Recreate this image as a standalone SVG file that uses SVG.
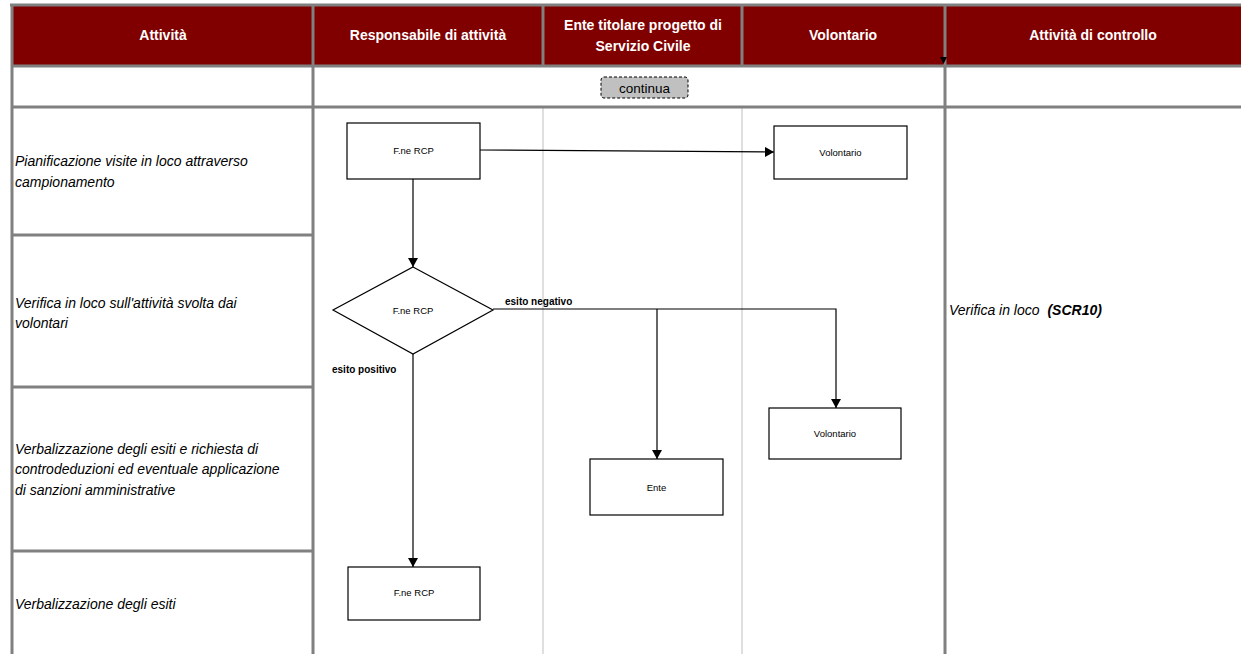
<svg xmlns="http://www.w3.org/2000/svg" width="1241" height="654" viewBox="0 0 1241 654">
<style>
.hdr{fill:#800000}
.grid{stroke:#808080;stroke-width:3;fill:none}
.lane{stroke:#bfbfbf;stroke-width:1;fill:none}
.htxt{font-family:"Liberation Sans",Arial,sans-serif;font-size:14px;font-weight:bold;fill:#fff;text-anchor:middle}
.act{font-family:"Liberation Sans",Arial,sans-serif;font-size:14px;font-style:italic;fill:#000}
.box{fill:#fff;stroke:#000;stroke-width:1.2}
.ntxt{font-family:"Liberation Sans",Arial,sans-serif;font-size:9.5px;fill:#000;text-anchor:middle}
.lbl{font-family:"Liberation Sans",Arial,sans-serif;font-size:10px;font-weight:bold;fill:#000}
.conn{stroke:#000;stroke-width:1.2;fill:none}
</style>
<defs>
<marker id="arr" markerWidth="10" markerHeight="10" refX="9" refY="5" orient="auto" markerUnits="userSpaceOnUse">
<path d="M0,0 L9,5 L0,10 Z" fill="#000"/>
</marker>
</defs>
<rect x="0" y="0" width="1241" height="654" fill="#fff"/>
<g id="grid">
<rect class="hdr" x="12" y="5" width="1229" height="61"/>
<line class="lane" x1="543" y1="106" x2="543" y2="654"/>
<line class="lane" x1="742" y1="106" x2="742" y2="654"/>
<line class="grid" x1="10" y1="5" x2="1241" y2="5"/>
<line class="grid" x1="12" y1="66" x2="1241" y2="66"/>
<line class="grid" x1="12" y1="107" x2="1241" y2="107"/>
<line class="grid" x1="12" y1="235" x2="313" y2="235"/>
<line class="grid" x1="12" y1="387" x2="313" y2="387"/>
<line class="grid" x1="12" y1="551" x2="313" y2="551"/>
<line class="grid" x1="12" y1="4" x2="12" y2="654"/>
<line class="grid" x1="313" y1="4" x2="313" y2="654"/>
<line class="grid" x1="543" y1="4" x2="543" y2="66"/>
<line class="grid" x1="742" y1="4" x2="742" y2="66"/>
<line class="grid" x1="945" y1="4" x2="945" y2="654"/>
<path d="M940,57 L947,57 L943.5,64 Z" fill="#000"/>
</g>
<g id="headers">
<text class="htxt" x="163" y="40">Attività</text>
<text class="htxt" x="428" y="40">Responsabile di attività</text>
<text class="htxt" x="643" y="30">Ente titolare progetto di</text>
<text class="htxt" x="643" y="51">Servizio Civile</text>
<text class="htxt" x="843" y="40">Volontario</text>
<text class="htxt" x="1093" y="40">Attività di controllo</text>
</g>
<g id="activities">
<text class="act" x="15" y="166">Pianificazione visite in loco attraverso</text>
<text class="act" x="15" y="187">campionamento</text>
<text class="act" x="15" y="308">Verifica in loco sull'attività svolta dai</text>
<text class="act" x="15" y="328">volontari</text>
<text class="act" x="15" y="454">Verbalizzazione degli esiti e richiesta di</text>
<text class="act" x="15" y="474">controdeduzioni ed eventuale applicazione</text>
<text class="act" x="15" y="495">di sanzioni amministrative</text>
<text class="act" x="15" y="609">Verbalizzazione degli esiti</text>
<text class="act" x="949" y="315">Verifica in loco <tspan dx="4" font-weight="bold">(SCR10)</tspan></text>
</g>
<g id="continua">
<rect x="601" y="77" width="87" height="21" rx="3" fill="#c0c0c0" stroke="#000" stroke-width="1" stroke-dasharray="3,2"/>
<text x="644.5" y="92.5" font-family="'Liberation Sans',Arial,sans-serif" font-size="13.5" text-anchor="middle" fill="#000">continua</text>
</g>
<g id="connectors">
<line class="conn" x1="480" y1="150" x2="774" y2="152" marker-end="url(#arr)"/>
<line class="conn" x1="413" y1="179" x2="413" y2="267" marker-end="url(#arr)"/>
<polyline class="conn" points="493,309 836,309 836,408" marker-end="url(#arr)"/>
<line class="conn" x1="657" y1="309" x2="657" y2="459" marker-end="url(#arr)"/>
<line class="conn" x1="413" y1="354" x2="413" y2="567" marker-end="url(#arr)"/>
<text class="lbl" x="505" y="305">esito negativo</text>
<text class="lbl" x="332" y="373">esito positivo</text>
</g>
<g id="n1">
<rect class="box" x="347" y="123" width="133" height="56"/>
<text class="ntxt" x="413.5" y="154">F.ne RCP</text>
</g>
<g id="n2">
<rect class="box" x="774" y="126" width="133" height="53"/>
<text class="ntxt" x="840.5" y="156">Volontario</text>
</g>
<g id="n3">
<polygon class="box" points="413,267 493,310 413,354 333,310"/>
<text class="ntxt" x="413" y="314">F.ne RCP</text>
</g>
<g id="n4">
<rect class="box" x="769" y="408" width="132" height="51"/>
<text class="ntxt" x="835" y="437">Volontario</text>
</g>
<g id="n5">
<rect class="box" x="590" y="459" width="133" height="56"/>
<text class="ntxt" x="656.5" y="491">Ente</text>
</g>
<g id="n6">
<rect class="box" x="348" y="567" width="132" height="53"/>
<text class="ntxt" x="414" y="596">F.ne RCP</text>
</g>
</svg>
